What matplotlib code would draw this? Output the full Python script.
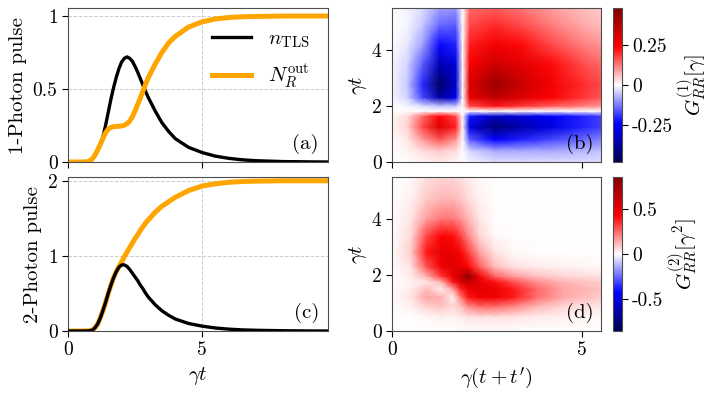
import numpy as np
import matplotlib
matplotlib.use("Agg")
import matplotlib.pyplot as plt

plt.rcParams['font.family'] = 'serif'
plt.rcParams['font.serif'] = ['cmr10']
plt.rcParams['mathtext.fontset'] = 'cm'
plt.rcParams['axes.unicode_minus'] = False

# left panels: time axis and populations
t = [0, 0.5, 0.75, 0.9, 1.0, 1.1, 1.2, 1.3, 1.4, 1.5, 1.6, 1.7, 1.8, 1.9, 2.0, 2.1,
     2.2, 2.3, 2.4, 2.5, 2.6, 2.7, 2.8, 2.9, 3.0, 3.25, 3.5, 3.75, 4.0, 4.5, 5.0,
     5.5, 6.0, 6.5, 7.0, 8.0, 9.0, 9.7]
n_tls_1 = [0, 0, 0.001, 0.02, 0.045, 0.08, 0.12, 0.17, 0.25, 0.34, 0.43, 0.51, 0.58,
           0.64, 0.685, 0.71, 0.72, 0.71, 0.69, 0.655, 0.615, 0.57, 0.525, 0.48, 0.44,
           0.35, 0.27, 0.21, 0.16, 0.10, 0.065, 0.04, 0.025, 0.015, 0.009, 0.003, 0.001, 0]
n_out_1 = [0, 0, 0.002, 0.02, 0.045, 0.08, 0.12, 0.16, 0.20, 0.225, 0.237, 0.242, 0.244,
           0.245, 0.247, 0.252, 0.262, 0.28, 0.31, 0.35, 0.395, 0.44, 0.49, 0.535, 0.58,
           0.67, 0.75, 0.815, 0.86, 0.925, 0.96, 0.98, 0.99, 0.995, 0.997, 1.0, 1.0, 1.0]
n_tls_2 = [0, 0, 0.001, 0.01, 0.04, 0.09, 0.17, 0.27, 0.38, 0.50, 0.61, 0.71, 0.79,
           0.85, 0.88, 0.88, 0.86, 0.82, 0.77, 0.72, 0.67, 0.61, 0.56, 0.50, 0.45,
           0.35, 0.27, 0.21, 0.16, 0.10, 0.065, 0.04, 0.025, 0.015, 0.01, 0.004, 0.001, 0]
n_out_2 = [0, 0, 0.002, 0.01, 0.04, 0.09, 0.17, 0.27, 0.38, 0.50, 0.61, 0.71, 0.79,
           0.86, 0.92, 0.99, 1.05, 1.11, 1.17, 1.23, 1.28, 1.34, 1.39, 1.44, 1.48,
           1.58, 1.66, 1.72, 1.78, 1.87, 1.93, 1.96, 1.98, 1.99, 1.995, 2.0, 2.0, 2.0]

# panel (b): G1 on a coarse grid, x = gamma(t+t'), y = gamma t
g1_x = [0, 0.4, 0.8, 1.25, 1.68, 1.86, 2.04, 2.7, 3.4, 4.2, 5.0, 5.5]
g1_y = [0, 0.4, 0.8, 1.25, 1.64, 1.82, 2.0, 2.3, 2.75, 3.5, 4.2, 4.9, 5.5]
g1 = [
    [0, 0, 0.01, 0.02, 0.01, 0, -0.01, -0.03, -0.03, -0.03, -0.03, -0.03],
    [0, 0.01, 0.03, 0.05, 0.03, 0, -0.04, -0.08, -0.08, -0.08, -0.07, -0.06],
    [0, 0.02, 0.09, 0.16, 0.10, 0, -0.15, -0.24, -0.21, -0.17, -0.14, -0.12],
    [0.01, 0.04, 0.17, 0.30, 0.21, 0, -0.28, -0.42, -0.35, -0.28, -0.21, -0.18],
    [0.01, 0.03, 0.14, 0.24, 0.17, 0, -0.22, -0.32, -0.29, -0.25, -0.21, -0.18],
    [0, 0, 0, 0, 0, 0, 0, 0, 0, 0, 0, 0],
    [0, -0.01, -0.03, -0.06, -0.05, 0, 0.17, 0.22, 0.19, 0.15, 0.12, 0.10],
    [-0.01, -0.04, -0.17, -0.36, -0.27, 0, 0.28, 0.36, 0.30, 0.24, 0.19, 0.16],
    [-0.01, -0.05, -0.2, -0.45, -0.31, 0, 0.30, 0.43, 0.34, 0.26, 0.20, 0.17],
    [-0.01, -0.04, -0.15, -0.34, -0.29, 0, 0.25, 0.33, 0.29, 0.23, 0.17, 0.14],
    [0, -0.02, -0.09, -0.23, -0.21, 0, 0.21, 0.26, 0.23, 0.17, 0.12, 0.10],
    [0, -0.01, -0.05, -0.14, -0.15, 0, 0.17, 0.20, 0.17, 0.12, 0.08, 0.06],
    [0, -0.01, -0.03, -0.09, -0.10, 0, 0.14, 0.15, 0.13, 0.09, 0.06, 0.05],
]

# panel (d): G2 on a coarse grid
g2_x = [0, 0.5, 0.9, 1.3, 1.6, 1.8, 2.0, 2.3, 2.7, 3.2, 3.8, 4.5, 5.5]
g2_y = [0, 0.5, 0.9, 1.2, 1.5, 1.75, 1.95, 2.3, 2.8, 3.4, 4.0, 4.7, 5.5]
g2 = [
    [0, 0, 0, 0, 0, 0, 0, 0, 0, 0, 0, 0, 0],
    [0, 0, 0.01, 0.02, 0.02, 0.03, 0.04, 0.05, 0.05, 0.04, 0.03, 0.02, 0.01],
    [0, 0.02, 0.08, 0.10, 0.06, 0.10, 0.20, 0.26, 0.26, 0.21, 0.13, 0.07, 0.04],
    [0, 0.04, 0.15, 0.13, 0.02, 0.20, 0.38, 0.47, 0.47, 0.38, 0.24, 0.14, 0.08],
    [0, 0.03, 0.11, 0.03, 0.15, 0.36, 0.46, 0.52, 0.48, 0.38, 0.25, 0.15, 0.10],
    [0, 0.02, 0.04, 0.12, 0.38, 0.52, 0.62, 0.50, 0.40, 0.29, 0.19, 0.12, 0.08],
    [0, 0.03, 0.12, 0.33, 0.48, 0.62, 0.80, 0.46, 0.26, 0.17, 0.11, 0.07, 0.05],
    [0, 0.05, 0.28, 0.47, 0.52, 0.50, 0.42, 0.27, 0.11, 0.05, 0.03, 0.02, 0.01],
    [0, 0.08, 0.38, 0.50, 0.50, 0.44, 0.33, 0.16, 0.05, 0.01, 0, 0, 0],
    [0, 0.06, 0.30, 0.42, 0.40, 0.32, 0.20, 0.07, 0.01, 0, 0, 0, 0],
    [0, 0.04, 0.16, 0.23, 0.23, 0.18, 0.12, 0.04, 0, 0, 0, 0, 0],
    [0, 0.02, 0.09, 0.12, 0.12, 0.10, 0.06, 0.02, 0, 0, 0, 0, 0],
    [0, 0.01, 0.05, 0.07, 0.07, 0.05, 0.03, 0.01, 0, 0, 0, 0, 0],
]

FS = 15
TFS = 14


def style(ax):
    for s in ax.spines.values():
        s.set_color('0.3')
    ax.tick_params(labelsize=TFS, length=4)


def line_panel(ax, ntls, nout, ymax, yticks, ylabels, label, ylab, black_on_top):
    zb = 3 if black_on_top else 2
    ax.plot(t, ntls, color='black', lw=2.4, label=r'$n_{\mathrm{TLS}}$', zorder=zb)
    ax.plot(t, nout, color='orange', lw=3.6, label=r'$N_R^{\mathrm{out}}$', zorder=2.5)
    ax.set_xlim(0, 9.7)
    ax.set_ylim(0, ymax)
    ax.set_xticks([0, 5])
    ax.set_yticks(yticks)
    ax.set_yticklabels(ylabels)
    ax.grid(True, ls='--', color='0.8', lw=0.7)
    ax.set_ylabel(ylab, fontsize=FS, labelpad=4)
    ax.text(0.965, 0.05, label, transform=ax.transAxes, ha='right', va='bottom', fontsize=FS)
    style(ax)


def map_panel(fig, ax, cax, xs, ys, vals, vmax, cticks, clabels, cname, label):
    X, Y = np.meshgrid(xs, ys)
    m = ax.pcolormesh(X, Y, np.array(vals), cmap='seismic', vmin=-vmax, vmax=vmax,
                      shading='gouraud', rasterized=True)
    ax.set_xlim(0, 5.5)
    ax.set_ylim(0, 5.5)
    ax.set_xticks([0, 5])
    ax.set_yticks([0, 2, 4])
    ax.set_yticklabels(['0', '2', '4'])
    ax.set_ylabel(r'$\gamma t$', fontsize=FS, labelpad=2)
    ax.text(0.965, 0.05, label, transform=ax.transAxes, ha='right', va='bottom', fontsize=FS)
    style(ax)
    cb = fig.colorbar(m, cax=cax)
    cb.set_ticks(cticks)
    cb.set_ticklabels(clabels)
    cb.ax.tick_params(labelsize=TFS, length=4)
    cb.outline.set_edgecolor('0.3')
    cb.set_label(cname, fontsize=FS, labelpad=2)


def main():
    fig = plt.figure(figsize=(7.13, 3.96), dpi=100)
    ax_a = fig.add_axes([0.0954, 0.5909, 0.3647, 0.3889])
    ax_c = fig.add_axes([0.0954, 0.1641, 0.3647, 0.3889])
    ax_b = fig.add_axes([0.5498, 0.5909, 0.2931, 0.3889])
    ax_d = fig.add_axes([0.5498, 0.1641, 0.2931, 0.3889])
    cax_b = fig.add_axes([0.8594, 0.5909, 0.0126, 0.3889])
    cax_d = fig.add_axes([0.8594, 0.1641, 0.0126, 0.3889])

    line_panel(ax_a, n_tls_1, n_out_1, 1.055, [0, 0.5, 1], ['0', '0.5', '1'], '(a)',
               '1-Photon pulse', False)
    ax_a.set_xticklabels([])
    ax_a.legend(loc='upper right', frameon=False, fontsize=FS, handlelength=1.9,
                labelspacing=0.6, bbox_to_anchor=(1.0, 0.98))

    line_panel(ax_c, n_tls_2, n_out_2, 2.05, [0, 1, 2], ['0', '1', '2'], '(c)',
               '2-Photon pulse', True)
    ax_c.set_xticklabels(['0', '5'])
    ax_c.set_xlabel(r'$\gamma t$', fontsize=FS)

    map_panel(fig, ax_b, cax_b, g1_x, g1_y, g1, 0.48, [-0.25, 0, 0.25],
              ['-0.25', '0', '0.25'], r'$G^{(1)}_{RR}[\gamma]$', '(b)')
    ax_b.set_xticklabels([])

    map_panel(fig, ax_d, cax_d, g2_x, g2_y, g2, 0.85, [-0.5, 0, 0.5],
              ['-0.5', '0', '0.5'], r'$G^{(2)}_{RR}[\gamma^2]$', '(d)')
    ax_d.set_xticklabels(['0', '5'])
    ax_d.set_xlabel(r"$\gamma(t+t')$", fontsize=FS)

    fig.savefig('out.png', dpi=100)


if __name__ == "__main__":
    main()
